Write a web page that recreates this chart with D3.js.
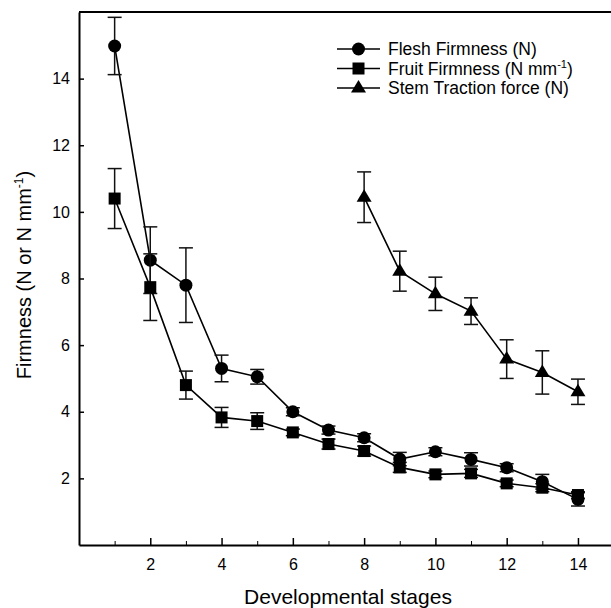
<!DOCTYPE html>
<html>
<head>
<meta charset="utf-8">
<script src="https://cdn.jsdelivr.net/npm/d3@7"></script>
<style>
	body { margin: 0; background: #fff; }
	svg text { font-family: "Liberation Sans", Arial, sans-serif; fill: #000; }
</style>
</head>
<body>
<div class="container"></div>
<script>
var	WIDTH = 611,
	HEIGHT = 608,
	LEFT = 79,
	TOP = 12,
	BOTTOM = 545,
	xScale,
	yScale;

// data
var stages = [1, 2, 3, 4, 5, 6, 7, 8, 9, 10, 11, 12, 13, 14];
var fleshMean = [14.98, 8.55, 7.8, 5.3, 5.05, 4.0, 3.45, 3.22, 2.58, 2.8, 2.57, 2.32, 1.9, 1.37];
var fleshErr = [0.86, 1.0, 1.12, 0.4, 0.22, 0.12, 0.12, 0.12, 0.2, 0.12, 0.2, 0.12, 0.22, 0.2];
var fruitMean = [10.4, 7.74, 4.8, 3.83, 3.72, 3.38, 3.03, 2.82, 2.33, 2.12, 2.15, 1.85, 1.72, 1.5];
var fruitErr = [0.9, 1.0, 0.42, 0.3, 0.25, 0.1, 0.15, 0.15, 0.15, 0.1, 0.12, 0.1, 0.12, 0.1];
var stemStages = [8, 9, 10, 11, 12, 13, 14];
var stemMean = [10.44, 8.22, 7.54, 7.02, 5.58, 5.18, 4.6];
var stemErr = [0.76, 0.6, 0.5, 0.4, 0.58, 0.65, 0.38];
var xTicks = [2, 4, 6, 8, 10, 12, 14];
var xMinor = [1, 3, 5, 7, 9, 11, 13];
var yTicks = [2, 4, 6, 8, 10, 12, 14];
var legendLabels = ['Flesh Firmness (N)', 'Fruit Firmness (N mm', 'Stem Traction force (N)'];

function translate(x, y) {
	return 'translate(' + x + ',' + y + ')';
}

function zip(xs, ms, es) {
	return xs.map(function(x, i) { return {x: x, y: ms[i], e: es[i]}; });
}

var triangle = 'M0,-8L7.5,4.5L-7.5,4.5Z';

function marker(sel, kind) {
	if (kind == 'circle') {
		sel.append('circle').attr('r', 6.5);
	} else if (kind == 'square') {
		sel.append('rect').attr('x', -6).attr('y', -6).attr('width', 12).attr('height', 12);
	} else {
		sel.append('path').attr('d', triangle);
	}
}

function drawSeries(g, data, kind) {
	var line = d3.line()
		.x(function(d) { return xScale(d.x); })
		.y(function(d) { return yScale(d.y); });

	g.append('path')
		.datum(data)
		.attr('d', line)
		.attr('fill', 'none')
		.attr('stroke', '#000')
		.attr('stroke-width', 1.6);

	var bars = g.selectAll(null)
		.data(data).enter()
		.append('g')
		.attr('stroke', '#111')
		.attr('stroke-width', 1.5);
	bars.append('line')
		.attr('x1', function(d) { return xScale(d.x); })
		.attr('x2', function(d) { return xScale(d.x); })
		.attr('y1', function(d) { return yScale(d.y - d.e); })
		.attr('y2', function(d) { return yScale(d.y + d.e); });
	[-1, 1].forEach(function(s) {
		bars.append('line')
			.attr('x1', function(d) { return xScale(d.x) - 7; })
			.attr('x2', function(d) { return xScale(d.x) + 7; })
			.attr('y1', function(d) { return yScale(d.y + s * d.e); })
			.attr('y2', function(d) { return yScale(d.y + s * d.e); });
	});

	g.selectAll(null)
		.data(data).enter()
		.append('g')
		.attr('transform', function(d) { return translate(xScale(d.x), yScale(d.y)); })
		.attr('fill', '#000')
		.call(marker, kind);
}

function createChart() {
	var svg = d3.select('.container').append('svg')
		.attr('width', WIDTH)
		.attr('height', HEIGHT);

	xScale = d3.scaleLinear().domain([0, 15]).range([LEFT, LEFT + 15 * 35.64]);
	yScale = d3.scaleLinear().domain([0, 16]).range([BOTTOM, TOP]);

	var xAxis = d3.axisBottom(xScale)
		.tickValues(xTicks)
		.tickSizeInner(-7)
		.tickSizeOuter(0)
		.tickPadding(14);
	var xMinorAxis = d3.axisBottom(xScale)
		.tickValues(xMinor)
		.tickSizeInner(-4)
		.tickSizeOuter(0)
		.tickFormat('');
	var yAxis = d3.axisLeft(yScale)
		.tickValues(yTicks)
		.tickSizeInner(-5)
		.tickSizeOuter(0)
		.tickPadding(9);

	var gx = svg.append('g').attr('transform', translate(0, BOTTOM)).call(xAxis);
	svg.append('g').attr('transform', translate(0, BOTTOM)).call(xMinorAxis)
		.select('.domain').remove();
	var gy = svg.append('g').attr('transform', translate(LEFT, 0)).call(yAxis);

	[gx, gy].forEach(function(g) {
		g.selectAll('text').attr('font-size', 16).attr('font-family', null);
		g.selectAll('line').attr('stroke-width', 1.5);
		g.select('.domain').attr('stroke-width', 2);
	});

	// top frame line
	svg.append('line')
		.attr('x1', LEFT).attr('x2', xScale(15))
		.attr('y1', yScale(16)).attr('y2', yScale(16))
		.attr('stroke', '#000').attr('stroke-width', 2);

	var plot = svg.append('g');
	drawSeries(plot, zip(stages, fleshMean, fleshErr), 'circle');
	drawSeries(plot, zip(stages, fruitMean, fruitErr), 'square');
	drawSeries(plot, zip(stemStages, stemMean, stemErr), 'triangle');

	// axis titles
	svg.append('text')
		.attr('x', 348).attr('y', 604)
		.attr('text-anchor', 'middle')
		.attr('font-size', 21)
		.text('Developmental stages');

	var yt = svg.append('text')
		.attr('transform', translate(31, 275) + ' rotate(-90)')
		.attr('text-anchor', 'middle')
		.attr('font-size', 20);
	yt.append('tspan').text('Firmness (N or N mm');
	yt.append('tspan').attr('font-size', 12).attr('dy', -8).text('-1');
	yt.append('tspan').attr('dy', 8).text(')');

	// legend
	var kinds = ['circle', 'square', 'triangle'];
	var legend = svg.append('g');
	legendLabels.forEach(function(label, i) {
		var row = legend.append('g').attr('transform', translate(337, 49 + i * 19.5));
		row.append('line').attr('x1', 0).attr('x2', 43)
			.attr('stroke', '#000').attr('stroke-width', 1.6);
		var m = row.append('g').attr('transform', translate(21.5, 0)).attr('fill', '#000');
		marker(m, kinds[i]);
		var t = row.append('text').attr('x', 51).attr('y', 6).attr('font-size', 17.5);
		t.append('tspan').text(label);
		if (i == 1) {
			t.append('tspan').attr('font-size', 11).attr('dy', -7).text('-1');
			t.append('tspan').attr('dy', 7).text(')');
		}
	});
}

window.onload = function() {
	createChart();
};
</script>
</body>
</html>
